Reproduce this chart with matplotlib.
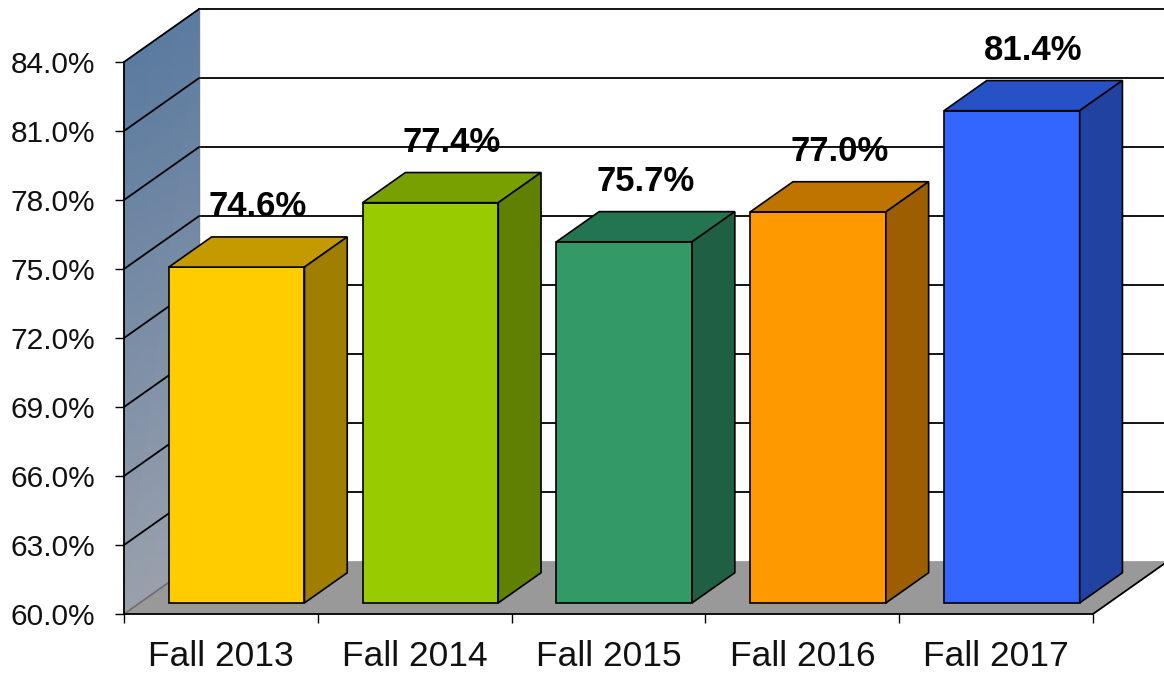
import matplotlib.pyplot as plt
import matplotlib.colors as mcolors
import numpy as np
from matplotlib.patches import Polygon

plt.rcParams['font.family'] = ['Liberation Sans', 'DejaVu Sans']

# data
categories = ['Fall 2013', 'Fall 2014', 'Fall 2015', 'Fall 2016', 'Fall 2017']
rates = [74.6, 77.4, 75.7, 77.0, 81.4]
yticks = [60, 63, 66, 69, 72, 75, 78, 81, 84]
front_colors = ['#FFCC00', '#99CC00', '#339966', '#FF9900', '#3366FF']
top_colors = ['#C49A00', '#78A000', '#237550', '#C07400', '#2652C6']
side_colors = ['#A07F00', '#5F8000', '#1F6045', '#9C5E00', '#2242A2']

# oblique "3d" offset (category units, percent units)
DX = 0.387
DY = 2.30
d0, d1 = 0.21, 0.78   # bar depth start / end
bw = 0.70
ymin, ymax = 60, 84
n = len(categories)

fig = plt.figure(figsize=(11.64, 6.74), dpi=100)
ax = fig.add_axes([124 / 1164, 60 / 674, 969 / 1164, 552 / 674])
ax.set_xlim(0, n)
ax.set_ylim(ymin, ymax)


def poly(pts, fc, ec='black', lw=1.2, z=3):
    p = Polygon(pts, closed=True, facecolor=fc, edgecolor=ec, linewidth=lw,
                zorder=z, clip_on=False, joinstyle='miter')
    ax.add_patch(p)
    return p


# back wall gridlines
for v in yticks[1:]:
    ax.plot([DX, n + DX], [v + DY, v + DY], color='black', lw=1.3, zorder=1, clip_on=False)
ax.plot([DX, DX], [ymin + DY, ymax + DY], color='#808080', lw=1.0, zorder=1, clip_on=False)

# floor
poly([(0, ymin), (n, ymin), (n + DX, ymin + DY), (DX, ymin + DY)], '#999999', ec='none', z=1.5)
ax.plot([n, n + DX], [ymin, ymin + DY], color='black', lw=1.3, zorder=1.6, clip_on=False)

# side wall with gradient (gouraud shaded quad)
wall_cmap = mcolors.LinearSegmentedColormap.from_list('wall', ['#9AA1AC', '#5B7BA0'])
WX = np.array([[0, DX], [0, DX]])
WY = np.array([[ymin, ymin + DY], [ymax, ymax + DY]])
WC = np.array([[0.0, 0.0], [1.0, 1.0]])
mesh = ax.pcolormesh(WX, WY, WC, cmap=wall_cmap, shading='gouraud', vmin=0, vmax=1, zorder=2)
mesh.set_clip_on(False)
for v in yticks:
    col = '#707070' if v == ymin else 'black'
    ax.plot([0, DX], [v, v + DY], color=col, lw=1.3, zorder=2.1, clip_on=False)

# bars
for i, (v, fcol, tcol, scol) in enumerate(zip(rates, front_colors, top_colors, side_colors)):
    xl = i + 0.5 - bw / 2 + d0 * DX
    xr = xl + bw
    yb = ymin + d0 * DY
    yt = v + d0 * DY
    ddx = (d1 - d0) * DX
    ddy = (d1 - d0) * DY
    poly([(xl, yb), (xr, yb), (xr, yt), (xl, yt)], fcol, z=3 + i * 0.1)
    poly([(xl, yt), (xr, yt), (xr + ddx, yt + ddy), (xl + ddx, yt + ddy)], tcol, z=3 + i * 0.1)
    poly([(xr, yb), (xr + ddx, yb + ddy), (xr + ddx, yt + ddy), (xr, yt)], scol, z=3 + i * 0.1)
    ax.annotate(f'{v:.1f}%', (i + 0.5 + (d0 + d1) / 2 * DX, v + d1 * DY),
                xytext=(0, 15), textcoords='offset points', ha='center', va='baseline',
                fontsize=25, fontweight='bold', color='black', zorder=6,
                annotation_clip=False)

# axes styling
for s in ['top', 'right']:
    ax.spines[s].set_visible(False)
for s in ['left', 'bottom']:
    ax.spines[s].set_linewidth(1.3)
    ax.spines[s].set_zorder(2.5)
ax.set_facecolor('none')

ax.set_yticks(yticks)
ax.set_yticklabels([f'{v:.1f}%' for v in yticks])
ax.tick_params(axis='y', direction='out', length=6.5, width=1.0, pad=14,
               labelsize=21.5, labelcolor='#111111')

ax.set_xticks(np.arange(n + 1))
ax.set_xticklabels([])
ax.set_xticks(np.arange(n) + 0.5, minor=True)
ax.set_xticklabels(categories, minor=True)
ax.tick_params(axis='x', which='major', direction='out', length=6.5, width=1.0)
ax.tick_params(axis='x', which='minor', length=0, pad=19, labelsize=25.5,
               labelcolor='#111111')

fig.savefig('out.png', dpi=100, facecolor='white')
